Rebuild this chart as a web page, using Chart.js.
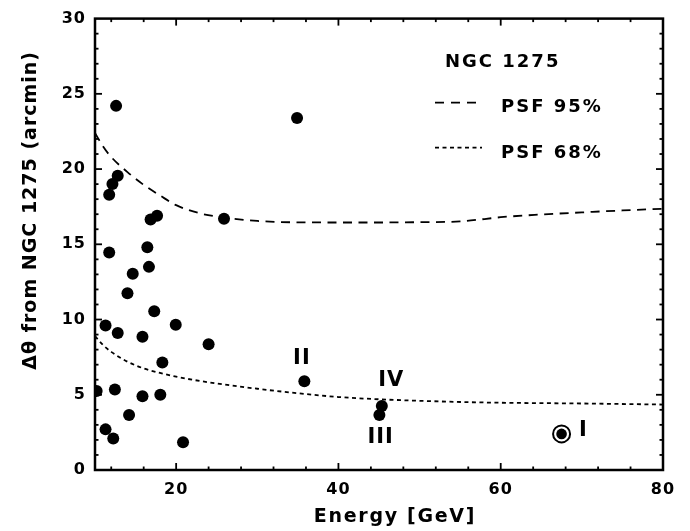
<!DOCTYPE html>
<html><head><meta charset="utf-8">
<script src="https://cdn.jsdelivr.net/npm/chart.js@4.4.0/dist/chart.umd.min.js"></script>
<style>html,body{margin:0;padding:0;background:#fff;}</style>
</head><body>
<canvas id="c" width="690" height="531"></canvas>
<script>
// ---- data ----
const photonEnergy = [12.6, 34.9, 12.8, 12.15, 11.75, 16.85, 17.65, 25.9, 11.75, 16.45, 16.65, 14.65, 14.0, 17.3, 11.3, 12.8, 15.85, 19.95, 24.0, 18.3, 10.2, 12.45, 15.85, 18.05, 14.2, 11.3, 12.25, 20.85, 35.8, 45.35, 45.05];
const photonOffset = [24.2, 23.4, 19.55, 19.0, 18.3, 16.65, 16.9, 16.7, 14.45, 14.8, 13.5, 13.05, 11.75, 10.55, 9.6, 9.1, 8.85, 9.65, 8.35, 7.15, 5.25, 5.35, 4.9, 5.0, 3.65, 2.7, 2.1, 1.85, 5.9, 4.25, 3.65];
const eventIEnergy = [67.5];
const eventIOffset = [2.4];

const psf95Energy = [10, 11, 12, 14, 16, 18, 20, 23, 26, 30, 35, 40, 45, 50, 55, 58, 60, 65, 70, 75, 80];
const psf95Radius = [22.4, 21.5, 20.8, 19.8, 18.95, 18.25, 17.6, 17.05, 16.78, 16.55, 16.46, 16.45, 16.45, 16.47, 16.52, 16.68, 16.8, 16.98, 17.12, 17.25, 17.36];
const psf68Energy = [10, 11, 12, 14, 16, 18, 20, 22, 25, 30, 35, 40, 45, 50, 55, 60, 70, 80];
const psf68Radius = [8.9, 8.3, 7.85, 7.2, 6.75, 6.45, 6.2, 6.0, 5.75, 5.4, 5.1, 4.85, 4.7, 4.6, 4.52, 4.47, 4.42, 4.35];

const eventNames = ['I', 'II', 'III', 'IV'];
const eventLabelEnergy = [70.2, 35.5, 45.2, 46.5];
const eventLabelOffset = [2.6, 7.4, 2.15, 5.95];

const xTickValues = [20, 40, 60, 80];
const yTickValues = [0, 5, 10, 15, 20, 25, 30];
const xMinorTicks = [12, 16, 24, 28, 32, 36, 44, 48, 52, 56, 64, 68, 72, 76];
const yMinorTicks = [1, 2, 3, 4, 6, 7, 8, 9, 11, 12, 13, 14, 16, 17, 18, 19, 21, 22, 23, 24, 26, 27, 28, 29];

const xTitle = 'Energy [GeV]';
const yTitle = 'Δθ from NGC 1275 (arcmin)';
const legendTitle = 'NGC 1275';
const legendLabels = ['PSF 95%', 'PSF 68%'];

// ---- helpers ----
const pts = (xs, ys) => xs.map((v, i) => ({x: v, y: ys[i]}));
const FONT = '"DejaVu Sans", sans-serif';

const decor = {
  id: 'decor',
  beforeDraw(chart) { chart.ctx.letterSpacing = '1px'; },
  afterDraw(chart) {
    const {ctx, chartArea: a, scales: {x, y}} = chart;
    ctx.save();
    ctx.setLineDash([]);
    ctx.globalAlpha = 1;
    ctx.strokeStyle = '#000000';
    ctx.fillStyle = '#000000';
    // tick marks on all four sides
    const MAJ = 7, MIN = 3.5, W = 1.8;
    const xt = xTickValues.filter(v => v > x.min && v < x.max).map(v => [v, MAJ])
      .concat(xMinorTicks.map(v => [v, MIN]));
    xt.forEach(([v, len]) => {
      const px = x.getPixelForValue(v);
      ctx.fillRect(px - W / 2, a.bottom - len, W, len);
      ctx.fillRect(px - W / 2, a.top, W, len);
    });
    const yt = yTickValues.filter(v => v > y.min && v < y.max).map(v => [v, MAJ])
      .concat(yMinorTicks.map(v => [v, MIN]));
    yt.forEach(([v, len]) => {
      const py = y.getPixelForValue(v);
      ctx.fillRect(a.left, py - W / 2, len, W);
      ctx.fillRect(a.right - len, py - W / 2, len, W);
    });
    // frame
    ctx.lineWidth = 2.5;
    ctx.strokeRect(a.left, a.top, a.right - a.left, a.bottom - a.top);

    // event labels
    ctx.font = 'bold 21px ' + FONT;
    ctx.letterSpacing = '1px';
    ctx.textAlign = 'center';
    ctx.textBaseline = 'middle';
    eventNames.forEach((n, i) => {
      ctx.fillText(n, x.getPixelForValue(eventLabelEnergy[i]), y.getPixelForValue(eventLabelOffset[i]));
    });

    // legend
    ctx.textAlign = 'left';
    ctx.textBaseline = 'alphabetic';
    ctx.font = 'bold 18px ' + FONT;
    ctx.letterSpacing = '2px';
    ctx.fillText(legendTitle, a.left + 350, a.top + 48);
    ctx.fillText(legendLabels[0], a.left + 406, a.top + 93);
    ctx.fillText(legendLabels[1], a.left + 406, a.top + 139);
    ctx.lineWidth = 1.8;
    ctx.setLineDash([9, 7]);
    ctx.beginPath(); ctx.moveTo(a.left + 340, a.top + 84); ctx.lineTo(a.left + 382, a.top + 84); ctx.stroke();
    ctx.setLineDash([4, 3.5]);
    ctx.beginPath(); ctx.moveTo(a.left + 340, a.top + 129); ctx.lineTo(a.left + 387, a.top + 129); ctx.stroke();
    ctx.setLineDash([]);

    // axis titles
    ctx.font = 'bold 19px ' + FONT;
    ctx.letterSpacing = '1.7px';
    ctx.textAlign = 'center';
    ctx.fillText(xTitle, (a.left + a.right) / 2 + 16, a.bottom + 52);
    ctx.letterSpacing = '1px';
    ctx.translate(a.left - 64, (a.top + a.bottom) / 2 - 34);
    ctx.rotate(-Math.PI / 2);
    ctx.textBaseline = 'middle';
    ctx.fillText(yTitle, 0, 0);
    ctx.restore();
  }
};

new Chart(document.getElementById('c'), {
  type: 'scatter',
  data: {
    datasets: [
      {data: pts(photonEnergy, photonOffset), pointRadius: 6, backgroundColor: '#000', borderWidth: 0, pointHoverRadius: 6},
      {data: pts(eventIEnergy, eventIOffset), pointRadius: 5.3, backgroundColor: '#000', borderWidth: 0},
      {data: pts(eventIEnergy, eventIOffset), pointRadius: 8.5, backgroundColor: '#fff', borderColor: '#000', borderWidth: 2},
      {type: 'line', data: pts(psf95Energy, psf95Radius), showLine: true, pointRadius: 0, borderColor: '#000', borderWidth: 1.8, borderDash: [9, 6.5], cubicInterpolationMode: 'monotone', fill: false},
      {type: 'line', data: pts(psf68Energy, psf68Radius), showLine: true, pointRadius: 0, borderColor: '#000', borderWidth: 1.8, borderDash: [4, 3.5], cubicInterpolationMode: 'monotone', fill: false}
    ]
  },
  options: {
    responsive: false,
    animation: false,
    events: [],
    layout: {padding: {top: 15, right: 27, left: 0, bottom: 0}},
    plugins: {legend: {display: false}, tooltip: {enabled: false}},
    scales: {
      x: {
        type: 'linear', min: 10, max: 80,
        grid: {display: false, drawTicks: false}, border: {display: false},
        afterBuildTicks: s => { s.ticks = xTickValues.map(v => ({value: v})); },
        afterFit: s => { s.height = 61; },
        ticks: {color: '#000', font: {family: FONT, size: 16, weight: 'bold'}, padding: 10, maxRotation: 0}
      },
      y: {
        type: 'linear', min: 0, max: 30,
        grid: {display: false, drawTicks: false}, border: {display: false},
        afterBuildTicks: s => { s.ticks = yTickValues.map(v => ({value: v})); },
        afterFit: s => { s.width = 95; },
        ticks: {color: '#000', font: {family: FONT, size: 16, weight: 'bold'}, padding: 9}
      }
    }
  },
  plugins: [decor]
});
</script>
</body></html>
